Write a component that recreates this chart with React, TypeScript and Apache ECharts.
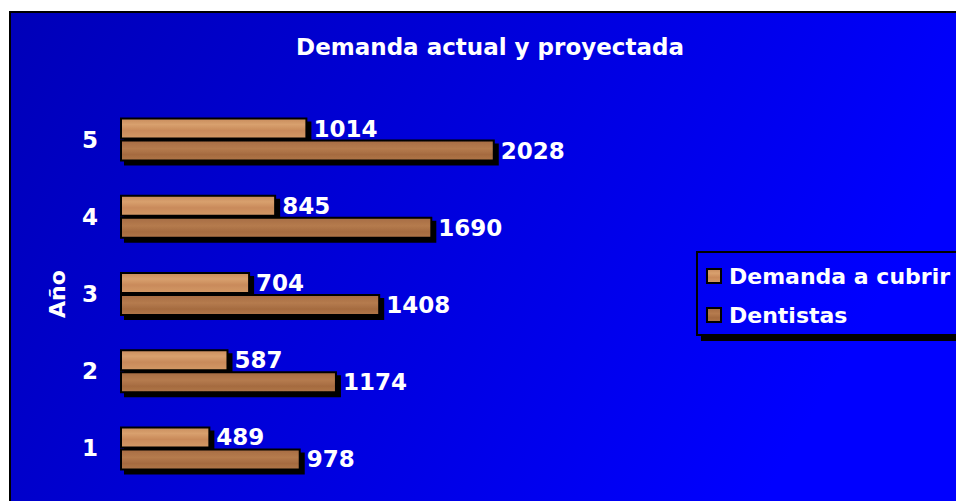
import React, { useEffect, useRef } from "react";
import * as echarts from "echarts";

const categories = ["1", "2", "3", "4", "5"];
const demanda = [489, 587, 704, 845, 1014];
const dentistas = [978, 1174, 1408, 1690, 2028];
const legendNames = ["Demanda a cubrir", "Dentistas"];

const FONT = "DejaVu Sans";

export default function App() {
  const ref = useRef<HTMLDivElement>(null);
  useEffect(() => {
    document.body.style.margin = "0";
    const chart = echarts.init(ref.current!, null, { renderer: "svg" });
    const light = new echarts.graphic.LinearGradient(0, 0, 0, 1, [
      { offset: 0, color: "#C88C5C" },
      { offset: 0.3, color: "#D8A06E" },
      { offset: 0.6, color: "#C98A5A" },
      { offset: 1, color: "#D39966" },
    ]);
    const dark = new echarts.graphic.LinearGradient(0, 0, 0, 1, [
      { offset: 0, color: "#A66C42" },
      { offset: 0.4, color: "#B57B4E" },
      { offset: 0.7, color: "#A56B40" },
      { offset: 1, color: "#B07648" },
    ]);
    const labelStyle = {
      show: true,
      position: "right" as const,
      distance: 6,
      color: "#fff",
      fontFamily: FONT,
      fontWeight: "bold" as const,
      fontSize: 23,
    };
    const itemBase = {
      borderColor: "#000",
      borderWidth: 2,
      shadowColor: "#000",
      shadowOffsetX: 4,
      shadowOffsetY: 4,
      shadowBlur: 0,
    };
    chart.setOption({
      animation: false,
      backgroundColor: "#fff",
      graphic: [
        {
          type: "rect",
          z: -10,
          silent: true,
          shape: { x: 10, y: 12, width: 950, height: 495 },
          style: {
            fill: new echarts.graphic.LinearGradient(0, 0, 1, 0.3, [
              { offset: 0, color: "#0000B8" },
              { offset: 1, color: "#0000FF" },
            ]),
            stroke: "#000",
            lineWidth: 2,
          },
        },
        {
          type: "rect",
          z: 1,
          silent: true,
          shape: { x: 701, y: 336, width: 260, height: 5 },
          style: { fill: "#000" },
        },
        {
          type: "rect",
          z: 1,
          silent: true,
          shape: { x: 697, y: 252, width: 300, height: 83 },
          style: { fill: "transparent", stroke: "#000", lineWidth: 2 },
        },
      ],
      title: {
        text: "Demanda actual y proyectada",
        left: 485,
        textAlign: "center",
        top: 30,
        textStyle: {
          color: "#fff",
          fontFamily: FONT,
          fontWeight: "bold",
          fontSize: 23,
        },
      },
      legend: {
        data: legendNames,
        orient: "vertical",
        left: 706,
        top: 265,
        padding: 0,
        itemWidth: 14,
        itemHeight: 14,
        itemGap: 17,
        icon: "rect",
        textStyle: {
          color: "#fff",
          fontFamily: FONT,
          fontWeight: "bold",
          fontSize: 22,
          padding: [0, 0, 0, 3],
        },
      },
      grid: { left: 120, top: 101, width: 462, height: 386 },
      xAxis: {
        type: "value",
        min: 0,
        max: 2500,
        show: false,
      },
      yAxis: {
        type: "category",
        data: categories,
        axisLine: { show: false },
        axisTick: { show: false },
        axisLabel: {
          color: "#fff",
          fontFamily: FONT,
          fontWeight: "bold",
          fontSize: 23,
          margin: 22,
        },
        name: "Año",
        nameLocation: "middle",
        nameGap: 52,
        nameRotate: 90,
        nameTextStyle: {
          color: "#fff",
          fontFamily: FONT,
          fontWeight: "bold",
          fontSize: 22,
        },
      },
      series: [
        {
          name: "Demanda a cubrir",
          type: "bar",
          data: demanda,
          barWidth: 22,
          barGap: "0%",
          z: 2,
          itemStyle: { ...itemBase, color: light },
          label: labelStyle,
        },
        {
          name: "Dentistas",
          type: "bar",
          data: dentistas,
          barWidth: 22,
          barGap: "0%",
          z: 3,
          itemStyle: { ...itemBase, color: dark },
          label: labelStyle,
        },
      ],
    });
    return () => chart.dispose();
  }, []);
  return <div ref={ref} style={{ width: 956, height: 501 }} />;
}
